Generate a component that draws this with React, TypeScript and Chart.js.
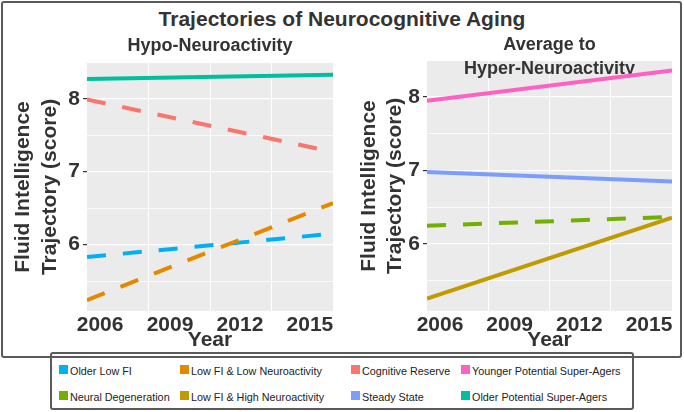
import React, { useEffect, useRef } from "react";
import { Chart, registerables } from "chart.js";

Chart.register(...registerables);

// ---------- data ----------
const years = [2006, 2015];
const yearTicks = [2006, 2009, 2012, 2015];
const yTickValues = [5.5, 6, 6.5, 7, 7.5, 8];

const olderLowFI = [5.83, 6.15];
const lowFILowNeuro = [5.24, 6.57];
const cognitiveReserve = [7.99, 7.27];
const olderPotentialSuperAgers = [8.27, 8.33];

const youngerPotentialSuperAgers = [7.95, 8.36];
const steadyState = [6.98, 6.85];
const neuralDegeneration = [6.25, 6.37];
const lowFIHighNeuro = [5.26, 6.36];

const legendRow1 = ["Older Low FI", "Low FI & Low Neuroactivity", "Cognitive Reserve", "Younger Potential Super-Agers"];
const legendRow2 = ["Neural Degeneration", "Low FI & High Neuroactivity", "Steady State", "Older Potential Super-Agers"];

const colors: Record<string, string> = {
  "Older Low FI": "#00B0F6",
  "Low FI & Low Neuroactivity": "#E38900",
  "Cognitive Reserve": "#F8766D",
  "Younger Potential Super-Agers": "#FF61C3",
  "Neural Degeneration": "#72B000",
  "Low FI & High Neuroactivity": "#C09B00",
  "Steady State": "#7C9DFB",
  "Older Potential Super-Agers": "#00BF9F",
};

const leftSeries = [
  { label: "Older Potential Super-Agers", values: olderPotentialSuperAgers, dashed: false },
  { label: "Cognitive Reserve", values: cognitiveReserve, dashed: true },
  { label: "Low FI & Low Neuroactivity", values: lowFILowNeuro, dashed: true },
  { label: "Older Low FI", values: olderLowFI, dashed: true },
];
const rightSeries = [
  { label: "Younger Potential Super-Agers", values: youngerPotentialSuperAgers, dashed: false },
  { label: "Steady State", values: steadyState, dashed: false },
  { label: "Neural Degeneration", values: neuralDegeneration, dashed: true },
  { label: "Low FI & High Neuroactivity", values: lowFIHighNeuro, dashed: false },
];

const FONT = "'Liberation Sans', Arial, sans-serif";
const TEXT = "#333333";
const X_MIN = 2006;
const X_MAX = 2015;
const LABEL_AXIS_MIN = 2005.44;
const LABEL_AXIS_MAX = 2015.99;
const Y_MIN = 5.09;
const Y_MAX = 8.49;

const bgPlugin = {
  id: "panelBg",
  beforeDraw(chart: any) {
    const { ctx, chartArea } = chart;
    ctx.save();
    ctx.fillStyle = "#EBEBEB";
    ctx.fillRect(chartArea.left, chartArea.top, chartArea.right - chartArea.left, chartArea.bottom - chartArea.top);
    ctx.restore();
  },
};

function makeDatasets(series: any[]) {
  return series.map((s) => ({
    label: s.label,
    data: years.map((x, i) => ({ x, y: s.values[i] })),
    borderColor: colors[s.label],
    backgroundColor: colors[s.label],
    borderWidth: 4,
    borderDash: s.dashed ? [19, 17] : [],
    borderCapStyle: "butt",
    pointRadius: 0,
    tension: 0,
    fill: false,
    clip: 0,
  }));
}

function makeOptions(p: any) {
  return {
    responsive: false,
    animation: false,
    devicePixelRatio: 1,
    layout: { padding: { left: 0, right: p.padRight, top: 0, bottom: 0 } },
    plugins: {
      legend: { display: false },
      tooltip: { enabled: false },
      title: {
        display: true,
        text: p.title,
        fullSize: false,
        color: TEXT,
        font: { family: FONT, size: 18, weight: "bold", lineHeight: p.titleLH },
        padding: p.titlePadding,
      },
    },
    scales: {
      x: {
        type: "linear",
        position: "bottom",
        min: X_MIN,
        max: X_MAX,
        afterBuildTicks: (s: any) => {
          s.ticks = [1, 2, 3].map((k) => ({ value: X_MIN + ((X_MAX - X_MIN) * k) / 4 }));
        },
        ticks: { display: false },
        grid: { color: "#FFFFFF", lineWidth: 1, drawTicks: false },
        border: { display: false },
        afterFit: (s: any) => {
          s.height = 0;
        },
      },
      xl: {
        type: "linear",
        axis: "x",
        position: "bottom",
        min: LABEL_AXIS_MIN,
        max: LABEL_AXIS_MAX,
        afterBuildTicks: (s: any) => {
          s.ticks = yearTicks.map((v) => ({ value: v }));
        },
        ticks: {
          autoSkip: false,
          maxRotation: 0,
          padding: -6,
          color: TEXT,
          font: { family: FONT, size: 21, weight: "bold", lineHeight: 1.2 },
          callback: (v: any) => String(v),
        },
        grid: { display: false },
        border: { display: false },
        title: {
          display: true,
          text: "Year",
          color: TEXT,
          font: { family: FONT, size: 21, weight: "bold", lineHeight: 1.2 },
          padding: { top: 0, bottom: 3.5 },
        },
        afterFit: (s: any) => {
          s.height = 45;
        },
      },
      y: {
        type: "linear",
        min: Y_MIN,
        max: Y_MAX,
        afterBuildTicks: (s: any) => {
          s.ticks = yTickValues.map((v) => ({ value: v }));
        },
        ticks: {
          padding: 3,
          color: TEXT,
          font: { family: FONT, size: 21, weight: "bold", lineHeight: 1.2 },
          callback: (v: any) => (Number.isInteger(v) ? String(v) : ""),
        },
        grid: {
          color: "#FFFFFF",
          lineWidth: (c: any) => (c.tick && Number.isInteger(c.tick.value) ? 1.2 : 0.8),
          drawTicks: true,
          tickLength: 4,
          tickWidth: 1.2,
          tickColor: (c: any) => (c.tick && Number.isInteger(c.tick.value) ? TEXT : "rgba(0,0,0,0)"),
        },
        border: { display: false },
        title: {
          display: true,
          text: ["Fluid Intelligence", "Trajectory (score)"],
          color: TEXT,
          font: { family: FONT, size: 21, weight: "bold", lineHeight: 1.27 },
          padding: { top: p.yTitlePad, bottom: 0 },
        },
        afterFit: (s: any) => {
          s.width = 87;
        },
      },
    },
  };
}

export default function App() {
  const leftRef = useRef<HTMLCanvasElement>(null);
  const rightRef = useRef<HTMLCanvasElement>(null);

  useEffect(() => {
    const left = new Chart(leftRef.current as HTMLCanvasElement, {
      type: "line",
      data: { datasets: makeDatasets(leftSeries) as any },
      options: makeOptions({
        title: "Hypo-Neuroactivity",
        titleLH: 1.2,
        titlePadding: { top: 4.8, bottom: 6.6 },
        padRight: 7,
        yTitlePad: 10,
      }) as any,
      plugins: [bgPlugin],
    });
    const right = new Chart(rightRef.current as HTMLCanvasElement, {
      type: "line",
      data: { datasets: makeDatasets(rightSeries) as any },
      options: makeOptions({
        title: ["Average to", "Hyper-Neuroactivity"],
        titleLH: 1.3,
        titlePadding: { top: 3.5, bottom: -19.3 },
        padRight: 8,
        yTitlePad: 15.5,
      }) as any,
      plugins: [bgPlugin],
    });
    return () => {
      left.destroy();
      right.destroy();
    };
  }, []);

  const legendRows = [legendRow1, legendRow2];
  const colX = [7, 128, 299, 409];
  const rowY = [8, 34];

  return (
    <div
      style={{
        position: "absolute",
        left: 0,
        top: 0,
        width: 684,
        height: 412,
        overflow: "hidden",
        background: "#ffffff",
        fontFamily: FONT,
      }}
    >
      <div
        style={{
          position: "absolute",
          left: 50,
          top: 352,
          width: 584,
          height: 58,
          border: "2px solid #5a5a5a",
          borderRadius: 3,
          boxSizing: "border-box",
          background: "#ffffff",
        }}
      >
        {legendRows.map((row, r) =>
          row.map((label, c) => (
            <div
              key={label}
              style={{
                position: "absolute",
                left: colX[c],
                top: rowY[r] + 3,
                display: "flex",
                alignItems: "center",
                whiteSpace: "nowrap",
              }}
            >
              <span
                style={{
                  display: "inline-block",
                  width: 9,
                  height: 9,
                  background: colors[label],
                  marginRight: 2,
                  marginTop: -3,
                }}
              />
              <span style={{ fontSize: 10.8, lineHeight: "12px", color: "#222222" }}>{label}</span>
            </div>
          ))
        )}
      </div>
      <div
        style={{
          position: "absolute",
          left: 1,
          top: 1,
          width: 681,
          height: 357,
          border: "2px solid #5a5a5a",
          borderRadius: 3,
          boxSizing: "border-box",
          pointerEvents: "none",
        }}
      />
      <div
        style={{
          position: "absolute",
          left: 0,
          top: 7,
          width: 684,
          textAlign: "center",
          fontSize: 21,
          lineHeight: "24px",
          fontWeight: "bold",
          color: TEXT,
        }}
      >
        Trajectories of Neurocognitive Aging
      </div>
      <canvas
        ref={leftRef}
        width={340}
        height={326}
        style={{ position: "absolute", left: 0, top: 30, width: 340, height: 326 }}
      />
      <canvas
        ref={rightRef}
        width={340}
        height={326}
        style={{ position: "absolute", left: 340, top: 30, width: 340, height: 326 }}
      />
    </div>
  );
}
